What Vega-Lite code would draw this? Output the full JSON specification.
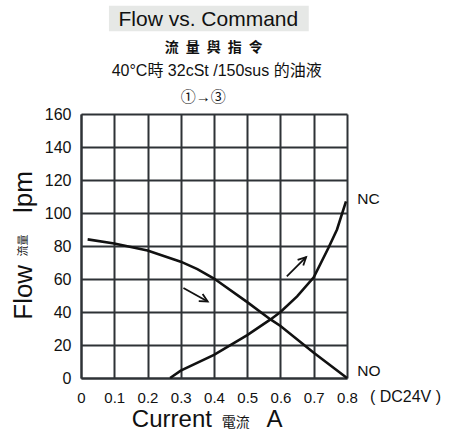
{
  "$schema": "https://vega.github.io/schema/vega-lite/v6.json",
  "width": 266,
  "height": 264,
  "autosize": {"type": "none"},
  "padding": {"left": 81, "top": 114, "right": 104, "bottom": 54},
  "background": "white",
  "config": {
    "view": {"stroke": null},
    "font": "Liberation Sans, Noto Sans CJK TC",
    "text": {"font": "Liberation Sans, Noto Sans CJK TC", "color": "#111111"}
  },
  "datasets": {
    "flow": [
      {"valve": "NO", "current": 0.02, "flow": 84},
      {"valve": "NO", "current": 0.1, "flow": 81.5},
      {"valve": "NO", "current": 0.2, "flow": 77.3},
      {"valve": "NO", "current": 0.3, "flow": 70.5},
      {"valve": "NO", "current": 0.35, "flow": 66},
      {"valve": "NO", "current": 0.4, "flow": 60.3},
      {"valve": "NO", "current": 0.5, "flow": 46},
      {"valve": "NO", "current": 0.57, "flow": 35.5},
      {"valve": "NO", "current": 0.6, "flow": 31.5},
      {"valve": "NO", "current": 0.7, "flow": 15.3},
      {"valve": "NO", "current": 0.8, "flow": 0},
      {"valve": "NC", "current": 0.268, "flow": 0},
      {"valve": "NC", "current": 0.3, "flow": 4.5},
      {"valve": "NC", "current": 0.4, "flow": 14},
      {"valve": "NC", "current": 0.5, "flow": 26},
      {"valve": "NC", "current": 0.57, "flow": 35.5},
      {"valve": "NC", "current": 0.6, "flow": 40},
      {"valve": "NC", "current": 0.65, "flow": 49.5},
      {"valve": "NC", "current": 0.7, "flow": 61},
      {"valve": "NC", "current": 0.744, "flow": 78.8},
      {"valve": "NC", "current": 0.77, "flow": 90},
      {"valve": "NC", "current": 0.797, "flow": 107}
    ],
    "arrows": [
      {"dir": "down", "x": 0.308, "y": 54.5, "x2": 0.381, "y2": 46.4},
      {"dir": "up", "x": 0.619, "y": 61.6, "x2": 0.677, "y2": 73.3}
    ]
  },
  "layer": [
    {
      "data": {"name": "flow"},
      "mark": {"type": "line", "color": "#111111", "strokeWidth": 2.6},
      "encoding": {
        "x": {
          "field": "current", "type": "quantitative",
          "scale": {"domain": [0, 0.8], "nice": false, "zero": false},
          "axis": {
            "values": [0, 0.1, 0.2, 0.3, 0.4, 0.5, 0.6, 0.7, 0.8],
            "tickCount": 20,
            "format": "~g",
            "labelOverlap": false,
            "labelFlush": false,
            "grid": true, "gridColor": "#2e3236", "gridWidth": 2, "gridOpacity": 1,
            "domain": true, "domainColor": "#2e3236", "domainWidth": 2,
            "ticks": false, "labelFontSize": 15, "labelColor": "#111111",
            "labelPadding": 12, "labelFont": "Liberation Sans", "title": null
          }
        },
        "y": {
          "field": "flow", "type": "quantitative",
          "scale": {"domain": [0, 160], "nice": false},
          "axis": {
            "values": [0, 20, 40, 60, 80, 100, 120, 140, 160],
            "tickCount": 20,
            "labelOverlap": false,
            "labelFlush": false,
            "grid": true, "gridColor": "#2e3236", "gridWidth": 2, "gridOpacity": 1,
            "domain": true, "domainColor": "#2e3236", "domainWidth": 2,
            "ticks": false, "labelFontSize": 16, "labelColor": "#111111",
            "labelPadding": 10, "labelFont": "Liberation Sans", "title": null
          }
        },
        "detail": {"field": "valve", "type": "nominal"}
      }
    },
    {
      "data": {"values": [{}]},
      "mark": {"type": "rect", "color": "#e6e8e6"},
      "encoding": {
        "x": {"datum": 0.084, "type": "quantitative"},
        "x2": {"datum": 0.685},
        "y": {"datum": 225.6, "type": "quantitative"},
        "y2": {"datum": 210.1}
      }
    },
    {
      "data": {"values": [{}]},
      "mark": {"type": "text", "text": "Flow  vs. Command", "fontSize": 21, "align": "center", "baseline": "alphabetic"},
      "encoding": {"x": {"datum": 0.383, "type": "quantitative"}, "y": {"datum": 213.1, "type": "quantitative"}}
    },
    {
      "data": {"values": [{}]},
      "mark": {"type": "text", "text": "流\u2002量\u2002與\u2002指\u2002令", "fontSize": 14, "fontWeight": "bold", "align": "center", "baseline": "alphabetic"},
      "encoding": {"x": {"datum": 0.399, "type": "quantitative"}, "y": {"datum": 197.8, "type": "quantitative"}}
    },
    {
      "data": {"values": [{}]},
      "mark": {"type": "text", "text": "40°C時 32cSt /150sus 的油液", "fontSize": 16, "align": "center", "baseline": "alphabetic"},
      "encoding": {"x": {"datum": 0.408, "type": "quantitative"}, "y": {"datum": 182.8, "type": "quantitative"}}
    },
    {
      "data": {"values": [{}]},
      "mark": {"type": "text", "text": "①→③", "fontSize": 15, "align": "center", "baseline": "alphabetic"},
      "encoding": {"x": {"datum": 0.368, "type": "quantitative"}, "y": {"datum": 167.5, "type": "quantitative"}}
    },
    {
      "data": {"name": "arrows"},
      "mark": {"type": "rule", "color": "#111111", "strokeWidth": 1.8},
      "encoding": {
        "x": {"field": "x", "type": "quantitative"},
        "y": {"field": "y", "type": "quantitative"},
        "x2": {"field": "x2"},
        "y2": {"field": "y2"}
      }
    },
    {
      "data": {"name": "arrows"},
      "mark": {"type": "point", "shape": "M -1 2 L 0 0 L 1 2", "filled": false, "color": "#111111", "strokeWidth": 1.8, "size": 64, "opacity": 1},
      "encoding": {
        "x": {"field": "x2", "type": "quantitative"},
        "y": {"field": "y2", "type": "quantitative"},
        "angle": {"field": "dir", "type": "nominal", "scale": {"domain": ["down", "up"], "range": [119, 45]}, "legend": null}
      }
    },
    {
      "data": {"values": [{}]},
      "mark": {"type": "text", "text": "NC", "fontSize": 15.5, "align": "left", "baseline": "alphabetic"},
      "encoding": {"x": {"datum": 0.831, "type": "quantitative"}, "y": {"datum": 105.6, "type": "quantitative"}}
    },
    {
      "data": {"values": [{}]},
      "mark": {"type": "text", "text": "NO", "fontSize": 15.5, "align": "left", "baseline": "alphabetic"},
      "encoding": {"x": {"datum": 0.831, "type": "quantitative"}, "y": {"datum": 1.4, "type": "quantitative"}}
    },
    {
      "data": {"values": [{}]},
      "mark": {"type": "text", "text": "( DC24V )", "fontSize": 16, "align": "left", "baseline": "alphabetic"},
      "encoding": {"x": {"datum": 0.869, "type": "quantitative"}, "y": {"datum": -14.7, "type": "quantitative"}}
    },
    {
      "data": {"values": [{}]},
      "mark": {"type": "text", "text": "Current", "fontSize": 24, "align": "left", "baseline": "alphabetic"},
      "encoding": {"x": {"datum": 0.153, "type": "quantitative"}, "y": {"datum": -29.8, "type": "quantitative"}}
    },
    {
      "data": {"values": [{}]},
      "mark": {"type": "text", "text": "電流", "fontSize": 14, "align": "left", "baseline": "alphabetic", "font": "Noto Sans CJK TC"},
      "encoding": {"x": {"datum": 0.423, "type": "quantitative"}, "y": {"datum": -29.8, "type": "quantitative"}}
    },
    {
      "data": {"values": [{}]},
      "mark": {"type": "text", "text": "A", "fontSize": 24, "align": "left", "baseline": "alphabetic"},
      "encoding": {"x": {"datum": 0.558, "type": "quantitative"}, "y": {"datum": -29.8, "type": "quantitative"}}
    },
    {
      "data": {"values": [{}]},
      "mark": {"type": "text", "text": "Flow", "fontSize": 26, "angle": 270, "align": "left", "baseline": "alphabetic"},
      "encoding": {"x": {"datum": -0.148, "type": "quantitative"}, "y": {"datum": 35.3, "type": "quantitative"}}
    },
    {
      "data": {"values": [{}]},
      "mark": {"type": "text", "text": "流量", "fontSize": 11, "angle": 270, "align": "left", "baseline": "alphabetic", "font": "Noto Sans CJK TC"},
      "encoding": {"x": {"datum": -0.161, "type": "quantitative"}, "y": {"datum": 73.7, "type": "quantitative"}}
    },
    {
      "data": {"values": [{}]},
      "mark": {"type": "text", "text": "lpm", "fontSize": 26, "angle": 270, "align": "left", "baseline": "alphabetic"},
      "encoding": {"x": {"datum": -0.148, "type": "quantitative"}, "y": {"datum": 100, "type": "quantitative"}}
    }
  ]
}
